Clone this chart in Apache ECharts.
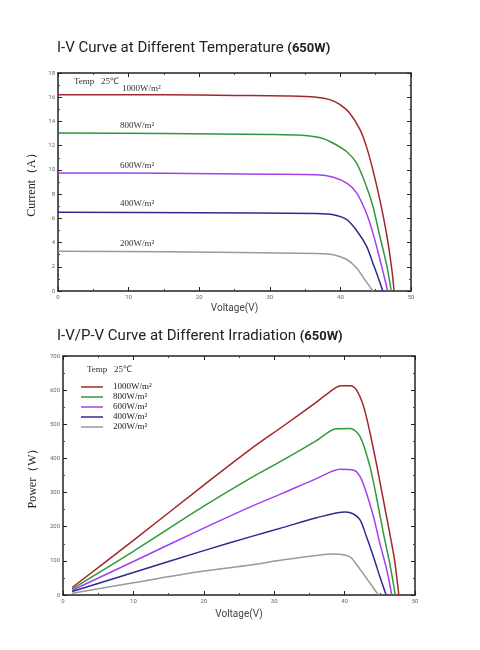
<!DOCTYPE html>
<html>
<head>
<meta charset="utf-8">
<script src="https://cdn.jsdelivr.net/npm/echarts@6/dist/echarts.min.js"></script>
<style>
  html, body { margin: 0; padding: 0; background: #fff; }
  #chart { width: 480px; height: 650px; }
</style>
</head>
<body>
<div id="chart"></div>
<script>
// irradiation levels (legend / curve labels)
const levels = ['1000W/m²', '800W/m²', '600W/m²', '400W/m²', '200W/m²']
const colors = ['#a0282a', '#2f9a3a', '#a040f0', '#2c2c90', '#9a9a9a']

// I-V curves: [voltage V, current A]
const iv1000 = [[0, 16.2], [15, 16.2], [25, 16.15], [33, 16.1], [36.6, 16.0], [38.5, 15.8], [39.9, 15.4], [41.3, 14.7], [42.8, 13.3], [43.7, 11.9], [44.6, 10.0], [45.6, 7.5], [46.6, 4.5], [47.3, 1.7], [47.6, 0]]
const iv800 = [[0, 13.05], [15, 13.0], [30, 12.92], [34.5, 12.85], [37.5, 12.6], [39.0, 12.2], [40.9, 11.5], [42.3, 10.55], [43.7, 8.6], [44.6, 7.0], [45.6, 4.5], [46.6, 2.0], [47.2, 0]]
const iv600 = [[0, 9.75], [15, 9.72], [30, 9.65], [36.6, 9.6], [39.0, 9.4], [40.9, 8.9], [42.3, 8.1], [43.7, 6.4], [44.6, 4.8], [45.6, 2.6], [46.7, 0]]
const iv400 = [[0, 6.5], [20, 6.47], [36.6, 6.4], [39.0, 6.3], [40.9, 5.9], [42.3, 5.0], [43.7, 3.7], [44.6, 2.3], [45.3, 1.2], [46.0, 0]]
const iv200 = [[0, 3.28], [15, 3.25], [36.6, 3.1], [39.0, 3.0], [40.9, 2.6], [42.3, 1.9], [43.5, 0.9], [44.6, 0]]

// P-V curves: [voltage V, power W]
const pv1000 = [[1.3, 22], [10, 160], [20, 322], [26.7, 428], [31.3, 495], [36, 565], [38.8, 608], [39.6, 613], [40.8, 613], [41.7, 600], [42.7, 552], [43.6, 476], [44.6, 376], [45.5, 279], [46.4, 182], [47.0, 115], [47.4, 54], [47.7, 0]]
const pv800 = [[1.3, 18], [10, 128], [20, 260], [26.7, 343], [31.3, 396], [36, 452], [38.8, 487], [40.8, 488], [42.2, 464], [43.6, 376], [44.6, 279], [45.5, 182], [46.4, 94], [47.2, 0]]
const pv600 = [[1.3, 14], [10, 98], [20, 196], [26.7, 259], [31.3, 299], [36, 341], [39.4, 368], [41.2, 366], [42.2, 347], [43.1, 299], [44.1, 230], [45.0, 152], [46.0, 73], [46.7, 0]]
const pv400 = [[1.3, 10], [10, 66], [20, 130], [26.7, 171], [31.3, 198], [36, 226], [40.1, 243], [41.2, 238], [42.2, 220], [43.1, 171], [44.1, 112], [45.0, 54], [45.9, 0]]
const pv200 = [[1.3, 5], [10, 36], [20, 70], [26.7, 88], [31.3, 103], [36, 116], [38.6, 120], [40, 117], [40.9, 110], [42.2, 75], [43.6, 35], [44.8, 0]]

const ivData = [iv1000, iv800, iv600, iv400, iv200]
const pvData = [pv1000, pv800, pv600, pv400, pv200]

const chart = echarts.init(document.getElementById('chart'))

const tickLabel = { color: '#666', fontSize: 6, fontFamily: 'Roboto' }
const frame = { lineStyle: { color: '#222', width: 1.5 } }

// main axis with labels + mirrored axis on the opposite side (ticks only)
const axisPair = (kind, grid, min, max, interval, name, nameGap, nameStyle) => {
  const main = {
    type: 'value', gridIndex: grid, min: min, max: max, interval: interval,
    position: kind === 'x' ? 'bottom' : 'left',
    name: name, nameLocation: 'middle', nameGap: nameGap, nameTextStyle: nameStyle,
    axisLine: { show: true, onZero: false, ...frame },
    axisTick: { show: true, inside: true, length: 4, lineStyle: { color: '#222' } },
    minorTick: { show: true, splitNumber: 2, length: 2, lineStyle: { color: '#444' } },
    axisLabel: { ...tickLabel, margin: 3 },
    splitLine: { show: false }
  }
  const mirror = {
    ...main,
    position: kind === 'x' ? 'top' : 'right',
    name: '', axisLabel: { show: false }
  }
  return [main, mirror]
}

const ivSeries = ivData.map((d, i) => ({
  name: 'IV ' + levels[i], type: 'line', xAxisIndex: 0, yAxisIndex: 0,
  data: d, showSymbol: false, smooth: 0.3,
  lineStyle: { color: colors[i], width: 1.5 }, itemStyle: { color: colors[i] }
}))
const pvSeries = pvData.map((d, i) => ({
  name: levels[i], type: 'line', xAxisIndex: 2, yAxisIndex: 2,
  data: d, showSymbol: false, smooth: 0.3,
  lineStyle: { color: colors[i], width: 1.5 }, itemStyle: { color: colors[i] }
}))

const serif = 'Liberation Serif'
const curveLabelY = [89, 126, 166, 204, 244]

const titleRich = {
  a: { fontFamily: 'Roboto', fontSize: 15, fontWeight: 'normal', color: '#222' },
  b: { fontFamily: 'Roboto', fontSize: 13, fontWeight: 'bold', color: '#222' }
}

const option = {
  animation: false,
  backgroundColor: '#fff',
  title: [
    {
      left: 52, top: 36,
      text: '{a|I-V Curve at Different Temperature }{b|(650W)}',
      textStyle: { rich: titleRich }
    },
    {
      left: 52, top: 324,
      text: '{a|I-V/P-V Curve at Different Irradiation }{b|(650W)}',
      textStyle: { rich: titleRich }
    }
  ],
  grid: [
    { left: 58, top: 73, width: 353, height: 218 },
    { left: 63, top: 356, width: 352, height: 239 }
  ],
  xAxis: [
    ...axisPair('x', 0, 0, 50, 10, 'Voltage(V)', 12, { color: '#444', fontSize: 10, fontFamily: 'Roboto' }),
    ...axisPair('x', 1, 0, 50, 10, 'Voltage(V)', 14, { color: '#444', fontSize: 10, fontFamily: 'Roboto' })
  ],
  yAxis: [
    ...axisPair('y', 0, 0, 18, 2, 'Current（A）', 20, { color: '#222', fontSize: 12, fontFamily: serif }),
    ...axisPair('y', 1, 0, 700, 100, 'Power（W）', 22, { color: '#222', fontSize: 12, fontFamily: serif })
  ],
  legend: {
    data: levels, orient: 'vertical', left: 76, top: 377,
    icon: 'rect', itemWidth: 22, itemHeight: 1.5, itemGap: 0,
    textStyle: { fontFamily: serif, fontSize: 9, color: '#222', lineHeight: 10, padding: [0, 0, 0, 5] }
  },
  graphic: [
    { type: 'text', left: 74, top: 77, style: { text: 'Temp   25℃', font: '9px "Liberation Serif"', fill: '#333' } },
    { type: 'text', left: 87, top: 365, style: { text: 'Temp   25℃', font: '9px "Liberation Serif"', fill: '#333' } },
    ...levels.map((t, i) => ({
      type: 'text', left: i === 0 ? 122 : 120, top: curveLabelY[i] - 5,
      style: { text: t, font: '9px "Liberation Serif"', fill: '#333' }
    }))
  ],
  series: [...ivSeries, ...pvSeries]
}

chart.setOption(option)
</script>
</body>
</html>
